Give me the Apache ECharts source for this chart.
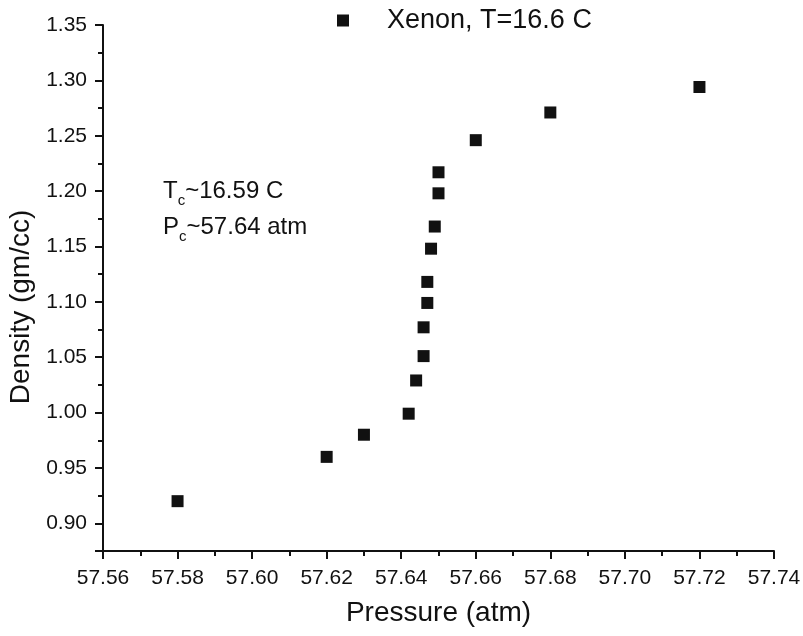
<!DOCTYPE html>
<html>
<head>
<meta charset="utf-8">
<script src="https://cdn.jsdelivr.net/npm/echarts@6/dist/echarts.min.js"></script>
<style>
html,body{margin:0;padding:0;background:#fff;}
#chart{width:803px;height:636px;}
</style>
</head>
<body>
<div id="chart"></div>
<script>
// Data
const seriesName = 'Xenon, T=16.6 C';
const pressure = [57.580, 57.620, 57.630, 57.642, 57.644, 57.646, 57.646, 57.647, 57.647, 57.648, 57.649, 57.650, 57.650, 57.660, 57.680, 57.720];
const density  = [0.920, 0.960, 0.980, 0.999, 1.029, 1.051, 1.077, 1.099, 1.118, 1.148, 1.168, 1.198, 1.217, 1.246, 1.271, 1.294];
const xAxisTitle = 'Pressure (atm)';
const yAxisTitle = 'Density (gm/cc)';
const annotTc = '~16.59 C';
const annotPc = '~57.64 atm';

const points = pressure.map((p, i) => [p, density[i]]);
const font = 'Liberation Sans, Arial, Helvetica, sans-serif';

const chart = echarts.init(document.getElementById('chart'), null, {renderer: 'canvas'});
chart.setOption({
  backgroundColor: '#fff',
  animation: false,
  grid: {left: 103, right: 29, top: 25, bottom: 85, containLabel: false, outerBoundsMode: 'none'},
  legend: {
    left: 332, top: 2,
    itemWidth: 12, itemHeight: 12,
    icon: 'rect',
    data: [seriesName],
    itemStyle: {color: '#111', opacity: 1},
    textStyle: {fontFamily: font, fontSize: 27, color: '#111', padding: [0, 0, 0, 33]}
  },
  xAxis: {
    type: 'value',
    min: 57.56, max: 57.74, interval: 0.02,
    name: xAxisTitle, nameLocation: 'middle', nameGap: 48,
    nameTextStyle: {fontFamily: font, fontSize: 28, color: '#111'},
    axisLine: {show: true, lineStyle: {color: '#111', width: 2}},
    axisTick: {show: true, length: 8, lineStyle: {color: '#111', width: 2}},
    minorTick: {show: true, splitNumber: 2, length: 5, lineStyle: {color: '#111', width: 2}},
    splitLine: {show: false},
    axisLabel: {fontFamily: font, fontSize: 21, color: '#111', margin: 17,
      formatter: v => v.toFixed(2)}
  },
  yAxis: {
    type: 'value',
    min: 0.875, max: 1.35, splitNumber: 10,
    name: yAxisTitle, nameLocation: 'middle', nameGap: 68,
    nameRotate: 90,
    nameTextStyle: {fontFamily: font, fontSize: 28, color: '#111', padding: [0, 38, 0, 0]},
    axisLine: {show: true, lineStyle: {color: '#111', width: 2}},
    axisTick: {show: true, length: 8, lineStyle: {color: '#111', width: 2}},
    minorTick: {show: true, splitNumber: 2, length: 5, lineStyle: {color: '#111', width: 2}},
    splitLine: {show: false},
    axisLabel: {fontFamily: font, fontSize: 21, color: '#111', margin: 16, showMinLabel: false,
      formatter: v => v.toFixed(2)}
  },
  graphic: [
    {type: 'text', left: 163, top: 179,
      style: {text: '{m|T}{s|c}{m|' + annotTc + '}',
        rich: {m: {fontFamily: font, fontSize: 24, fill: '#111', lineHeight: 28},
               s: {fontFamily: font, fontSize: 15, fill: '#111', padding: [20, 0, 0, 0]}}}},
    {type: 'text', left: 163, top: 215,
      style: {text: '{m|P}{s|c}{m|' + annotPc + '}',
        rich: {m: {fontFamily: font, fontSize: 24, fill: '#111', lineHeight: 28},
               s: {fontFamily: font, fontSize: 15, fill: '#111', padding: [20, 0, 0, 0]}}}}
  ],
  series: [{
    name: seriesName,
    type: 'scatter',
    symbol: 'rect',
    symbolSize: 12,
    itemStyle: {color: '#111', opacity: 1},
    data: points
  }]
});
</script>
</body>
</html>
